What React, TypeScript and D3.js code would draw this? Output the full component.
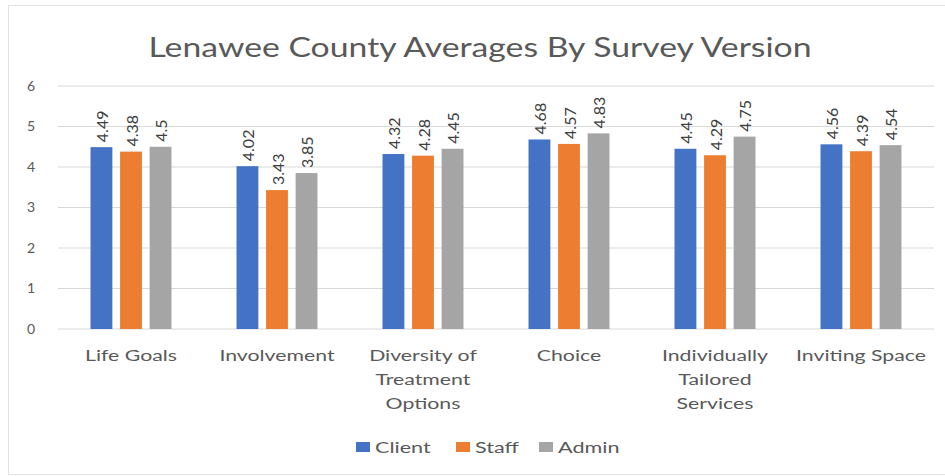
import React from "react";
import * as d3 from "d3";

const categories = [
  ["Life Goals"],
  ["Involvement"],
  ["Diversity of", "Treatment", "Options"],
  ["Choice"],
  ["Individually", "Tailored", "Services"],
  ["Inviting Space"],
];
const seriesNames = ["Client", "Staff", "Admin"];
const client = [4.49, 4.02, 4.32, 4.68, 4.45, 4.56];
const staff = [4.38, 3.43, 4.28, 4.57, 4.29, 4.39];
const admin = [4.5, 3.85, 4.45, 4.83, 4.75, 4.54];
const labelClient = ["4.49", "4.02", "4.32", "4.68", "4.45", "4.56"];
const labelStaff = ["4.38", "3.43", "4.28", "4.57", "4.29", "4.39"];
const labelAdmin = ["4.5", "3.85", "4.45", "4.83", "4.75", "4.54"];
const yTicks = [0, 1, 2, 3, 4, 5, 6];
const colors = ["#4472C4", "#ED7D31", "#A5A5A5"];

const W = 945;
const H = 476;
const FONT = "Lato, 'Open Sans', sans-serif";

function SText(props: {
  x: number;
  y: number;
  sx: number;
  size: number;
  anchor?: string;
  fill?: string;
  dy?: string;
  children: React.ReactNode;
}) {
  return (
    <text
      transform={`translate(${props.x},${props.y}) scale(${props.sx},1)`}
      textAnchor={props.anchor || "start"}
      fontSize={props.size}
      fill={props.fill || "#595959"}
      dy={props.dy}
    >
      {props.children}
    </text>
  );
}

export default function App() {
  const series = [client, staff, admin];
  const labels = [labelClient, labelStaff, labelAdmin];
  const x0 = d3
    .scaleBand<number>()
    .domain(categories.map((_, i) => i))
    .range([58, 934]);
  const x1 = d3
    .scaleBand<number>()
    .domain([0, 1, 2])
    .range([0, x0.bandwidth()])
    .paddingInner(0.26)
    .paddingOuter(1.1);
  const y = d3.scaleLinear().domain([0, 6]).range([329, 86]);

  return (
    <svg
      width={W}
      height={H}
      style={{ position: "absolute", left: 0, top: 0, background: "#fff" }}
      fontFamily={FONT}
    >
      <rect x={8.5} y={5.5} width={945} height={469} fill="#fff" stroke="#e3e3e3" />
      <SText x={480} y={57} sx={1.25} size={27} anchor="middle">
        Lenawee County Averages By Survey Version
      </SText>
      {yTicks.map((t) => (
        <g key={t}>
          <line x1={58} x2={934} y1={y(t)} y2={y(t)} stroke="#d9d9d9" strokeWidth={1} />
          <text x={31} y={y(t)} dy="0.35em" textAnchor="middle" fontSize={14} fill="#595959">
            {t}
          </text>
        </g>
      ))}
      {categories.map((cat, i) => (
        <g key={i} transform={`translate(${x0(i)},0)`}>
          {series.map((s, j) => {
            const bx = x1(j)!;
            const bw = x1.bandwidth();
            return (
              <g key={j}>
                <rect x={bx} y={y(s[i])} width={bw} height={y(0) - y(s[i])} fill={colors[j]} />
                <text
                  transform={`translate(${bx + bw / 2},${y(s[i]) - 5}) rotate(-90)`}
                  dominantBaseline="central"
                  fontSize={16}
                  fill="#404040"
                >
                  {labels[j][i]}
                </text>
              </g>
            );
          })}
          {cat.map((line, k) => (
            <SText
              key={k}
              x={x0.bandwidth() / 2}
              y={361 + k * 24}
              sx={1.33}
              anchor="middle"
              size={16}
            >
              {line}
            </SText>
          ))}
        </g>
      ))}
      {seriesNames.map((n, j) => {
        const lx = [356, 456, 539][j];
        return (
          <g key={n}>
            <rect x={lx} y={442} width={14} height={10} fill={colors[j]} />
            <SText x={lx + 19} y={447} dy="0.35em" sx={1.35} size={16}>
              {n}
            </SText>
          </g>
        );
      })}
    </svg>
  );
}
